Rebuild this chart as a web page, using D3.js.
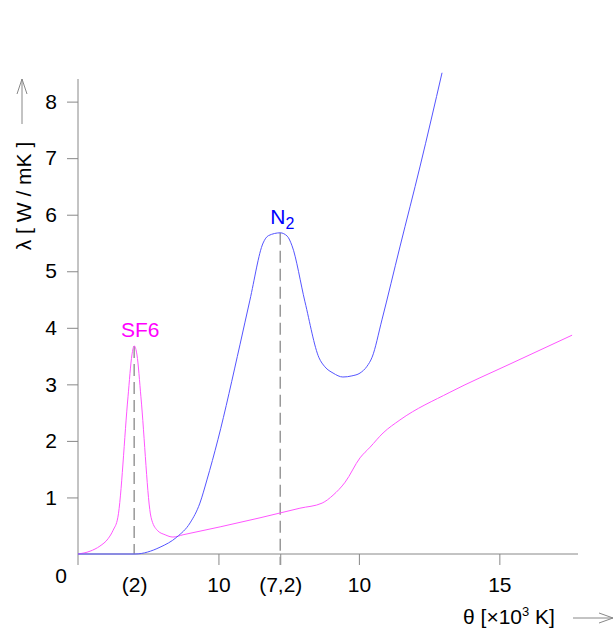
<!DOCTYPE html>
<html>
<head>
<meta charset="utf-8">
<script src="https://cdn.jsdelivr.net/npm/d3@7"></script>
<style>
  body { margin: 0; background: #fff; }
  svg { display: block; font-family: "Liberation Sans", Arial, sans-serif; }
  .axis line, .axis path { stroke: #888; }
  .axis text { font-size: 21px; fill: #000; }
</style>
</head>
<body>
<svg class="chart" width="615" height="632"></svg>
<script>
// θ in 10^3 K, λ in W/mK
var n2Temp = [0, 2.03, 2.92, 3.52, 3.99, 4.34, 4.59, 4.98, 5.77, 6.12, 6.59, 6.78, 7.2, 7.45, 7.62, 8.08, 8.58, 8.79, 9.08, 9.43, 9.75, 10.04, 10.29, 10.47, 10.82, 11.46, 12.18, 12.96];
var n2Lambda = [0, 0, 0.12, 0.30, 0.55, 0.90, 1.31, 2.02, 3.71, 4.49, 5.50, 5.63, 5.68, 5.62, 5.45, 4.46, 3.47, 3.31, 3.20, 3.13, 3.15, 3.20, 3.32, 3.48, 4.14, 5.43, 6.86, 8.51];

var sf6Temp = [0, 0.43, 0.78, 1.07, 1.25, 1.42, 1.78, 1.92, 2.0, 2.1, 2.24, 2.6, 2.82, 3.10, 3.38, 3.74, 5.06, 6.48, 7.90, 8.69, 9.08, 9.51, 10.04, 10.40, 10.86, 11.46, 13.24, 15.38, 17.59];
var sf6Lambda = [0, 0.05, 0.14, 0.27, 0.42, 0.65, 2.78, 3.52, 3.68, 3.52, 2.78, 0.65, 0.42, 0.34, 0.30, 0.34, 0.48, 0.64, 0.81, 0.90, 1.04, 1.27, 1.70, 1.89, 2.14, 2.37, 2.86, 3.36, 3.87];

var xTicks = [2, 5, 7.2, 10, 15];
var xTickLabels = ["(2)", "10", "(7,2)", "10", "15"];
var yTicks = [1, 2, 3, 4, 5, 6, 7, 8];

var peaks = [
    { t: 2, l: 3.68, name: "SF6", color: "#ff00ff" },
    { t: 7.2, l: 5.68, name: "N", sub: "2", color: "#0000ff" }
];

var svg = d3.select(".chart");

var xScale = d3.scaleLinear().domain([0, 17.8]).range([78, 578]);
var yScale = d3.scaleLinear().domain([0, 8.4]).range([554, 79]);

/**** axes ****/
var xAxis = d3.axisBottom(xScale)
    .tickValues(xTicks)
    .tickFormat(function(d, i) { return xTickLabels[i]; })
    .tickSize(11)
    .tickSizeOuter(0)
    .tickPadding(12);

var xg = svg.append("g")
    .attr("class", "axis")
    .attr("transform", "translate(0," + yScale(0) + ")")
    .call(xAxis);
xg.select(".domain").remove();
// no tick mark under (2)
xg.selectAll(".tick line").filter(function(d) { return d === 2; }).remove();

var yAxis = d3.axisLeft(yScale)
    .tickValues(yTicks)
    .tickSize(11)
    .tickSizeOuter(0)
    .tickPadding(10);

var yg = svg.append("g")
    .attr("class", "axis")
    .attr("transform", "translate(" + xScale(0) + ",0)")
    .call(yAxis);
yg.select(".domain").remove();

// axis lines
svg.append("line")
    .attr("x1", xScale(0)).attr("x2", xScale(17.8))
    .attr("y1", yScale(0)).attr("y2", yScale(0))
    .attr("stroke", "#888");
svg.append("line")
    .attr("x1", xScale(0)).attr("x2", xScale(0))
    .attr("y1", yScale(8.4)).attr("y2", yScale(0) + 11)
    .attr("stroke", "#888");

svg.append("text")
    .attr("x", 61).attr("y", 583)
    .attr("text-anchor", "middle")
    .style("font-size", "21px")
    .text("0");

/**** dashed guides ****/
svg.selectAll(".guide")
    .data(peaks)
    .enter()
    .append("line")
    .attr("class", "guide")
    .attr("x1", function(d) { return xScale(d.t); })
    .attr("x2", function(d) { return xScale(d.t); })
    .attr("y1", function(d) { return yScale(d.l); })
    .attr("y2", function(d) { return d.sub ? yScale(0) + 11 : yScale(0); })
    .attr("stroke", "#999")
    .attr("stroke-width", 1.5)
    .attr("stroke-dasharray", "12,6");

/**** curves ****/
var line = d3.line()
    .x(function(d) { return xScale(d[0]); })
    .y(function(d) { return yScale(d[1]); })
    .curve(d3.curveMonotoneX);

svg.append("path")
    .datum(d3.zip(sf6Temp, sf6Lambda))
    .attr("fill", "none")
    .attr("stroke", "#ff55ff")
    .attr("stroke-width", 1)
    .attr("d", line);

svg.append("path")
    .datum(d3.zip(n2Temp, n2Lambda))
    .attr("fill", "none")
    .attr("stroke", "#5555ff")
    .attr("stroke-width", 1)
    .attr("d", line);

/**** peak labels ****/
peaks.forEach(function(p) {
    var t = svg.append("text")
        .attr("x", xScale(p.t) + (p.sub ? 2 : 6))
        .attr("y", yScale(p.l) - 9)
        .attr("text-anchor", "middle")
        .attr("fill", p.color)
        .style("font-size", "21px")
        .text(p.name);
    if (p.sub) {
        t.append("tspan")
            .attr("dy", 5)
            .style("font-size", "16px")
            .text(p.sub);
    }
});

/**** axis titles with arrows ****/
svg.append("text")
    .attr("transform", "translate(31,196) rotate(-90)")
    .attr("text-anchor", "middle")
    .style("font-size", "21px")
    .text("λ [ W / mK ]");

svg.append("path")
    .attr("d", "M22,124V79M17,94L22,79L27,94")
    .attr("fill", "none")
    .attr("stroke", "#888");

var xt = svg.append("text")
    .attr("x", 509).attr("y", 624)
    .attr("text-anchor", "middle")
    .style("font-size", "21px")
    .text("θ [×10");
xt.append("tspan").attr("dy", -8).style("font-size", "13px").text("3");
xt.append("tspan").attr("dy", 8).text(" K]");

svg.append("path")
    .attr("d", "M573,618H613M599,613L613,618L599,623")
    .attr("fill", "none")
    .attr("stroke", "#888");
</script>
</body>
</html>
